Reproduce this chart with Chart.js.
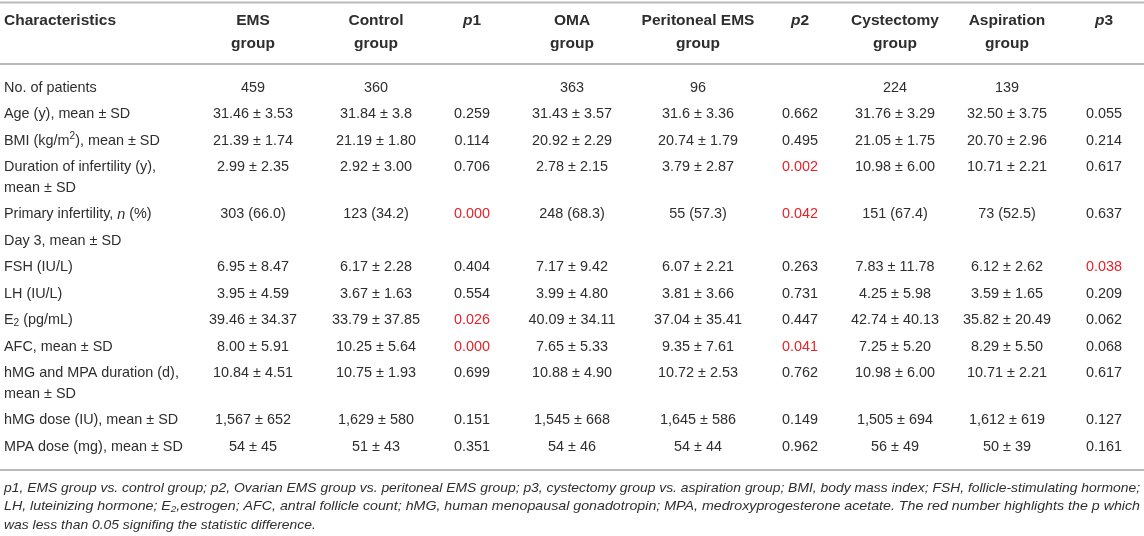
<!DOCTYPE html>
<html>
<head>
<meta charset="utf-8">
<script src="https://cdn.jsdelivr.net/npm/chart.js@4.4.1/dist/chart.umd.min.js"></script>
<style>
  html, body { margin: 0; padding: 0; background: #fff; }
  #wrap { width: 1144px; height: 536px; }
</style>
</head>
<body>
<div id="wrap"><canvas id="baselineTable" width="1144" height="536"></canvas></div>
<script>
// markup: *x* italic, ^{x} superscript, _{x} subscript, \n new line inside a cell
const HEADERS = ['Characteristics', 'EMS\ngroup', 'Control\ngroup', '*p*1', 'OMA\ngroup', 'Peritoneal EMS\ngroup', '*p*2', 'Cystectomy\ngroup', 'Aspiration\ngroup', '*p*3'];
const CHARACTERISTICS = [
    'No. of patients',
    'Age (y), mean ± SD',
    'BMI (kg/m^{2}), mean ± SD',
    'Duration of infertility (y),\nmean ± SD',
    'Primary infertility, *n* (%)',
    'Day 3, mean ± SD',
    'FSH (IU/L)',
    'LH (IU/L)',
    'E_{2} (pg/mL)',
    'AFC, mean ± SD',
    'hMG and MPA duration (d),\nmean ± SD',
    'hMG dose (IU), mean ± SD',
    'MPA dose (mg), mean ± SD'
];
const EMS_GROUP = ['459', '31.46 ± 3.53', '21.39 ± 1.74', '2.99 ± 2.35', '303 (66.0)', '', '6.95 ± 8.47', '3.95 ± 4.59', '39.46 ± 34.37', '8.00 ± 5.91', '10.84 ± 4.51', '1,567 ± 652', '54 ± 45'];
const CONTROL_GROUP = ['360', '31.84 ± 3.8', '21.19 ± 1.80', '2.92 ± 3.00', '123 (34.2)', '', '6.17 ± 2.28', '3.67 ± 1.63', '33.79 ± 37.85', '10.25 ± 5.64', '10.75 ± 1.93', '1,629 ± 580', '51 ± 43'];
const P1 = ['', '0.259', '0.114', '0.706', '0.000', '', '0.404', '0.554', '0.026', '0.000', '0.699', '0.151', '0.351'];
const OMA_GROUP = ['363', '31.43 ± 3.57', '20.92 ± 2.29', '2.78 ± 2.15', '248 (68.3)', '', '7.17 ± 9.42', '3.99 ± 4.80', '40.09 ± 34.11', '7.65 ± 5.33', '10.88 ± 4.90', '1,545 ± 668', '54 ± 46'];
const PERITONEAL_GROUP = ['96', '31.6 ± 3.36', '20.74 ± 1.79', '3.79 ± 2.87', '55 (57.3)', '', '6.07 ± 2.21', '3.81 ± 3.66', '37.04 ± 35.41', '9.35 ± 7.61', '10.72 ± 2.53', '1,645 ± 586', '54 ± 44'];
const P2 = ['', '0.662', '0.495', '0.002', '0.042', '', '0.263', '0.731', '0.447', '0.041', '0.762', '0.149', '0.962'];
const CYSTECTOMY_GROUP = ['224', '31.76 ± 3.29', '21.05 ± 1.75', '10.98 ± 6.00', '151 (67.4)', '', '7.83 ± 11.78', '4.25 ± 5.98', '42.74 ± 40.13', '7.25 ± 5.20', '10.98 ± 6.00', '1,505 ± 694', '56 ± 49'];
const ASPIRATION_GROUP = ['139', '32.50 ± 3.75', '20.70 ± 2.96', '10.71 ± 2.21', '73 (52.5)', '', '6.12 ± 2.62', '3.59 ± 1.65', '35.82 ± 20.49', '8.29 ± 5.50', '10.71 ± 2.21', '1,612 ± 619', '50 ± 39'];
const P3 = ['', '0.055', '0.214', '0.617', '0.637', '', '0.038', '0.209', '0.062', '0.068', '0.617', '0.127', '0.161'];
const FOOTNOTE = [
    'p1, EMS group vs. control group; p2, Ovarian EMS group vs. peritoneal EMS group; p3, cystectomy group vs. aspiration group; BMI, body mass index; FSH, follicle-stimulating hormone;',
    'LH, luteinizing hormone; E_{2},estrogen; AFC, antral follicle count; hMG, human menopausal gonadotropin; MPA, medroxyprogesterone acetate. The red number highlights the p which',
    'was less than 0.05 signifing the statistic difference.'
];

const COLUMNS = [EMS_GROUP, CONTROL_GROUP, P1, OMA_GROUP, PERITONEAL_GROUP, P2, CYSTECTOMY_GROUP, ASPIRATION_GROUP, P3];
const P_COLUMNS = [P1, P2, P3];
const ALPHA = 0.05;

// layout (scale units = css px)
const COL_WIDTHS = [190, 126, 120, 72, 128, 124, 80, 110, 114, 80];
const LAYOUT = {
    topRule: 2.5, headY: 21, headRule: 64, bodyY: 88, rowPitch: 26.5, lineGap: 20.5,
    bottomGap: 23, footGap: 18, footPitch: 18.5, padLeft: 4
};
const FONT = "'Liberation Sans', Arial, Helvetica, sans-serif";
const BODY_SIZE = 14.4;
const HEAD_SIZE = 15.5;
const TEXT = '#2e2e2e';
const RED = '#e8212a';
const RULE = '#b9b9b9';

function colCenters() {
    let left = 0;
    return COL_WIDTHS.map(w => { const c = left + w / 2; left += w; return c; });
}

function rowPositions() {
    let y = LAYOUT.bodyY;
    return CHARACTERISTICS.map(lbl => {
        const pos = y;
        const lines = lbl.split('\n').length;
        y += LAYOUT.rowPitch + (lines - 1) * LAYOUT.lineGap;
        return pos;
    });
}

function parseRich(s) {
    const parts = s.split(/(\^\{[^}]*\}|_\{[^}]*\}|\*[^*]+\*)/).filter(p => p.length);
    return parts.map(p => {
        if (p.startsWith('^{')) return { t: p.slice(2, -1), kind: 'sup' };
        if (p.startsWith('_{')) return { t: p.slice(2, -1), kind: 'sub' };
        if (p.startsWith('*')) return { t: p.slice(1, -1), kind: 'it' };
        return { t: p, kind: 'n' };
    });
}

function segFont(seg, size, bold, italic) {
    const small = seg.kind === 'sup' || seg.kind === 'sub';
    const it = italic || seg.kind === 'it';
    return `${it ? 'italic ' : ''}${bold ? 'bold ' : ''}${small ? (size * 0.7).toFixed(1) : size}px ${FONT}`;
}

function drawRich(ctx, s, x, y, opt) {
    const segs = parseRich(s);
    const size = opt.size || BODY_SIZE;
    let total = 0;
    segs.forEach(seg => {
        ctx.font = segFont(seg, size, opt.bold, opt.italic);
        seg.w = ctx.measureText(seg.t).width;
        total += seg.w;
    });
    let cx = opt.align === 'center' ? x - total / 2 : x;
    ctx.textAlign = 'left';
    ctx.textBaseline = 'middle';
    ctx.fillStyle = opt.color || TEXT;
    segs.forEach(seg => {
        ctx.font = segFont(seg, size, opt.bold, opt.italic);
        let dy = 0;
        if (seg.kind === 'sup') dy = -size * 0.33;
        if (seg.kind === 'sub') dy = size * 0.22;
        ctx.fillText(seg.t, cx, y + dy);
        cx += seg.w;
    });
    return total;
}

function richWidth(ctx, s, opt) {
    return parseRich(s).reduce((sum, seg) => {
        ctx.font = segFont(seg, opt.size || BODY_SIZE, opt.bold, opt.italic);
        return sum + ctx.measureText(seg.t).width;
    }, 0);
}

const tablePlugin = {
    id: 'tablePlugin',
    afterDraw(chart) {
        const { ctx, scales: { x, y } } = chart;
        const centers = colCenters();
        const rows = rowPositions();
        const px = v => x.getPixelForValue(v);
        const py = v => y.getPixelForValue(v);
        ctx.save();

        // rules
        const lastRow = rows[rows.length - 1];
        const bottomRule = lastRow + LAYOUT.bottomGap;
        ctx.strokeStyle = RULE;
        ctx.lineWidth = 2;
        [LAYOUT.topRule, LAYOUT.headRule, bottomRule].forEach(v => {
            ctx.beginPath();
            ctx.moveTo(px(0), py(v));
            ctx.lineTo(px(1144), py(v));
            ctx.stroke();
        });

        // header
        HEADERS.forEach((h, c) => {
            h.split('\n').forEach((line, li) => {
                const yy = py(LAYOUT.headY + li * LAYOUT.lineGap * 1.1);
                if (c === 0) drawRich(ctx, line, px(LAYOUT.padLeft), yy, { bold: true, size: HEAD_SIZE });
                else drawRich(ctx, line, px(centers[c]), yy, { bold: true, size: HEAD_SIZE, align: 'center' });
            });
        });

        // first column labels
        CHARACTERISTICS.forEach((lbl, r) => {
            lbl.split('\n').forEach((line, li) => {
                drawRich(ctx, line, px(LAYOUT.padLeft), py(rows[r] + li * LAYOUT.lineGap), {});
            });
        });

        // value cells
        COLUMNS.forEach((col, ci) => {
            const isP = P_COLUMNS.includes(col);
            col.forEach((val, r) => {
                if (!val) return;
                const sig = isP && parseFloat(val) < ALPHA;
                drawRich(ctx, val, px(centers[ci + 1]), py(rows[r]), { align: 'center', color: sig ? RED : TEXT });
            });
        });

        // footnote, italic and condensed to the table width
        const footOpt = { italic: true, size: 13.5 };
        const fullW = px(1144) - px(2 * LAYOUT.padLeft);
        const base = fullW / richWidth(ctx, FOOTNOTE[0], footOpt);
        FOOTNOTE.forEach((line, i) => {
            const yy = py(bottomRule + LAYOUT.footGap + i * LAYOUT.footPitch);
            const k = i < FOOTNOTE.length - 1 ? fullW / richWidth(ctx, line, footOpt) : base;
            ctx.save();
            ctx.translate(px(LAYOUT.padLeft), 0);
            ctx.scale(k, 1);
            drawRich(ctx, line, 0, yy, footOpt);
            ctx.restore();
        });

        ctx.restore();
    }
};

new Chart(document.getElementById('baselineTable'), {
    type: 'scatter',
    data: { datasets: [{ data: [], pointRadius: 0 }] },
    options: {
        responsive: false,
        animation: false,
        layout: { padding: 0 },
        plugins: { legend: { display: false }, tooltip: { enabled: false } },
        scales: {
            x: { type: 'linear', min: 0, max: 1144, display: false },
            y: { type: 'linear', min: 0, max: 536, reverse: true, display: false }
        }
    },
    plugins: [tablePlugin]
});
</script>
</body>
</html>
